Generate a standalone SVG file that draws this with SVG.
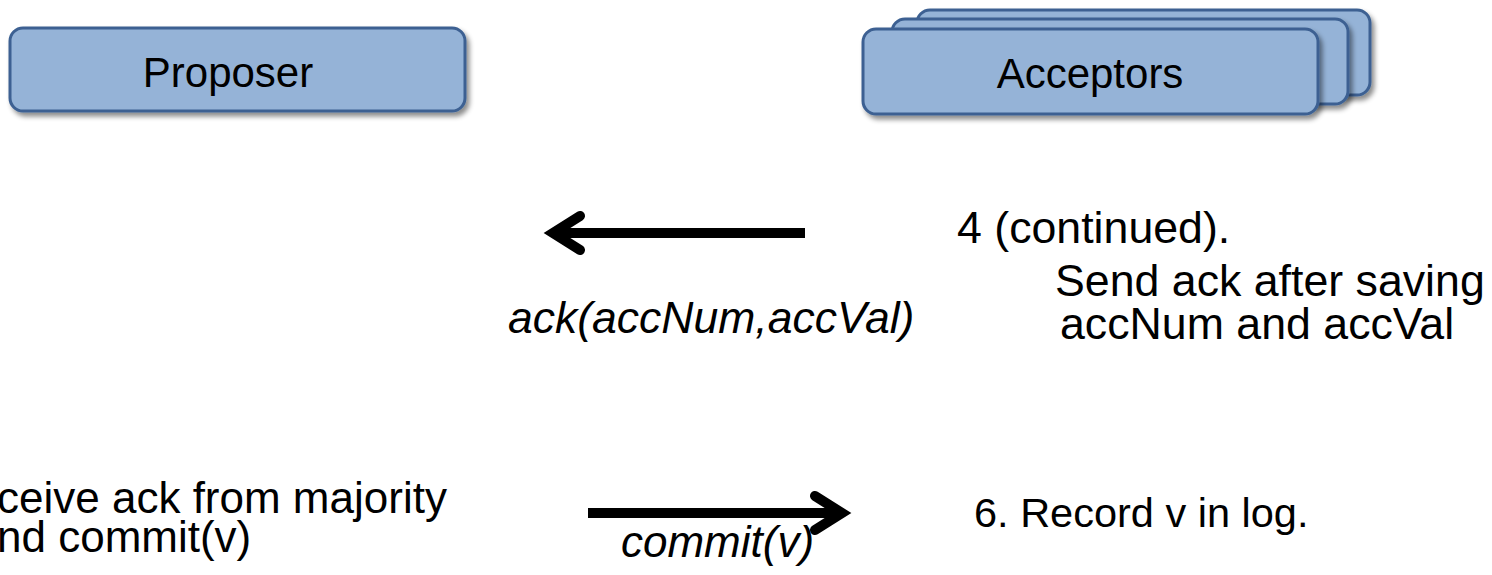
<svg xmlns="http://www.w3.org/2000/svg" width="1492" height="575" viewBox="0 0 1492 575">
<defs>
<filter id="sh" x="-5%" y="-20%" width="115%" height="150%">
<feDropShadow dx="3" dy="4" stdDeviation="2.5" flood-color="#000" flood-opacity="0.45"/>
</filter>
</defs>
<style>
.box{fill:#95B3D7;stroke:#3C6192;stroke-width:3;filter:url(#sh)}
.t{font-family:"Liberation Sans",Arial,sans-serif;fill:#000}
.lbl{font-size:42px;text-anchor:middle}
.big{font-size:44.7px}
.it{font-style:italic}
.ln{stroke:#000;stroke-width:10;fill:none}
.hd{stroke:#000;stroke-width:10;fill:none;stroke-linecap:round;stroke-linejoin:miter}
</style>
<rect width="1492" height="575" fill="#fff"/>
<g id="proposer">
<rect class="box" x="10" y="28" width="455" height="83" rx="13"/>
<text class="t lbl" x="228" y="87">Proposer</text>
</g>
<g id="acceptors">
<rect class="box" x="917" y="10" width="453" height="85" rx="13"/>
<rect class="box" x="892" y="19" width="456" height="85" rx="13"/>
<rect class="box" x="863" y="29" width="455" height="85" rx="13"/>
<text class="t lbl" x="1090" y="88">Acceptors</text>
</g>
<g id="connectors">
<line class="ln" x1="805" y1="233" x2="556" y2="233"/>
<polyline class="hd" points="580,216 553,233 580,250"/>
<line class="ln" x1="588" y1="513" x2="838" y2="513"/>
<polyline class="hd" points="815,496 842,513 815,530"/>
</g>
<g id="labels">
<text class="t it" font-size="44.5" x="508" y="333">ack(accNum,accVal)</text>
<text class="t it" font-size="44" x="621" y="557">commit(v)</text>
<text class="t big" x="957" y="243">4 (continued).</text>
<text class="t big"><tspan x="1055" y="296">Send ack after saving</tspan><tspan x="1060" y="339">accNum and accVal</tspan></text>
<text class="t" font-size="41.5" x="974" y="527">6. Record v in log.</text>
<text class="t" font-size="44"><tspan x="-3" y="513">ceive ack from majority</tspan><tspan x="-3" y="552">nd commit(v)</tspan></text>
</g>
</svg>
